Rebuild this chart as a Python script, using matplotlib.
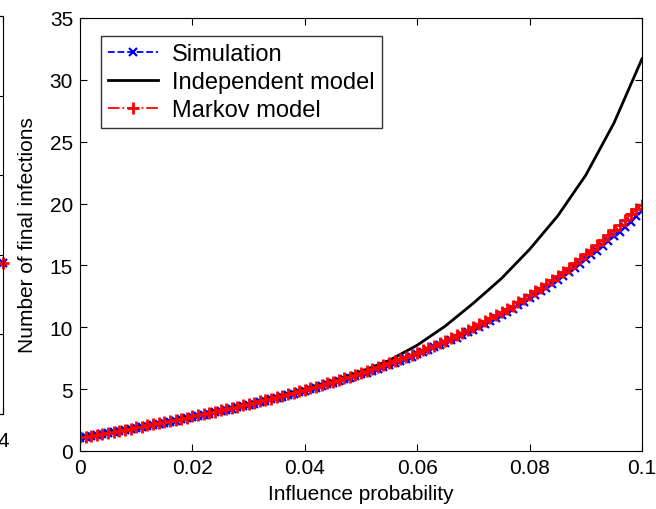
import matplotlib
matplotlib.use("Agg")
import matplotlib.pyplot as plt
import numpy as np

plt.rcParams['font.family'] = ['Liberation Sans', 'DejaVu Sans']

# ---- data ----
x_prob = [i / 1000 for i in range(101)]

markov = [1.10, 1.17, 1.25, 1.33, 1.41, 1.49, 1.57, 1.65, 1.73, 1.81,
          1.90, 1.98, 2.07, 2.15, 2.24, 2.33, 2.42, 2.51, 2.61, 2.70,
          2.80, 2.89, 2.99, 3.09, 3.19, 3.29, 3.39, 3.49, 3.59, 3.70,
          3.80, 3.91, 4.02, 4.13, 4.24, 4.35, 4.47, 4.59, 4.71, 4.83,
          4.95, 5.08, 5.21, 5.34, 5.47, 5.60, 5.74, 5.88, 6.01, 6.15,
          6.30, 6.45, 6.60, 6.76, 6.92, 7.08, 7.25, 7.42, 7.59, 7.77,
          7.95, 8.14, 8.33, 8.52, 8.72, 8.92, 9.13, 9.34, 9.56, 9.78,
          10.00, 10.24, 10.48, 10.72, 10.97, 11.23, 11.49, 11.76, 12.03, 12.31,
          12.60, 12.90, 13.20, 13.51, 13.83, 14.16, 14.49, 14.83, 15.18, 15.54,
          15.90, 16.27, 16.65, 17.04, 17.44, 17.85, 18.27, 18.69, 19.12, 19.55,
          19.90]

simulation = [1.05, 1.13, 1.20, 1.29, 1.36, 1.45, 1.52, 1.61, 1.68, 1.77,
              1.85, 1.93, 2.02, 2.10, 2.19, 2.27, 2.37, 2.45, 2.55, 2.64,
              2.74, 2.83, 2.93, 3.02, 3.13, 3.22, 3.33, 3.42, 3.53, 3.62,
              3.73, 3.83, 3.95, 4.05, 4.17, 4.27, 4.40, 4.51, 4.63, 4.75,
              4.87, 4.99, 5.12, 5.25, 5.38, 5.51, 5.64, 5.78, 5.91, 6.05,
              6.19, 6.34, 6.49, 6.64, 6.80, 6.96, 7.12, 7.29, 7.46, 7.63,
              7.81, 7.99, 8.18, 8.37, 8.56, 8.76, 8.96, 9.17, 9.38, 9.60,
              9.82, 10.04, 10.27, 10.51, 10.75, 11.00, 11.25, 11.51, 11.78, 12.05,
              12.33, 12.61, 12.90, 13.20, 13.50, 13.81, 14.13, 14.46, 14.79, 15.13,
              15.48, 15.84, 16.20, 16.57, 16.95, 17.34, 17.73, 18.13, 18.54, 18.96,
              19.40]

x_indep = [0.000, 0.005, 0.010, 0.015, 0.020, 0.025, 0.030, 0.035, 0.040, 0.045,
           0.050, 0.055, 0.060, 0.065, 0.070, 0.075, 0.080, 0.085, 0.090, 0.095, 0.100]
independent = [1.10, 1.50, 1.92, 2.35, 2.82, 3.32, 3.85, 4.42, 5.02, 5.68,
               6.42, 7.32, 8.55, 10.10, 11.95, 13.95, 16.30, 19.00, 22.30, 26.50, 31.70]

xtick_vals = [0, 0.02, 0.04, 0.06, 0.08, 0.1]
xtick_labels = ['0', '0.02', '0.04', '0.06', '0.08', '0.1']
ytick_vals = [0, 5, 10, 15, 20, 25, 30, 35]

# neighbouring (cut-off) panel data
left_x = [4]
left_y = [1.9]

W, H = 656, 510
fig = plt.figure(figsize=(W / 100, H / 100), dpi=100)

# ---- cut-off panel on the left ----
axl = fig.add_axes([3 / W - 0.5, (H - 415) / H, 0.5, 398 / H])
axl.set_xlim(0, 4)
axl.set_ylim(0, 5)
axl.plot(left_x, left_y, color='blue', marker='x', ms=6, mew=1.6, ls='none', clip_on=False)
axl.plot(left_x, left_y, color='red', marker='+', ms=8, mew=2.0, ls='none', clip_on=False)
axl.set_xticks([4])
axl.set_xticklabels(['4'])
axl.set_yticks([0, 1, 2, 3, 4, 5])
axl.set_yticklabels([])
axl.tick_params(direction='in', length=5, width=0.8, top=True, right=True,
                labelsize=15, pad=12)
for s in axl.spines.values():
    s.set_linewidth(0.8)

# ---- main panel ----
ax = fig.add_axes([80 / W, (H - 452) / H, 562 / W, 433 / H])
ax.plot(x_prob, simulation, color='blue', ls='--', lw=1.3, marker='x', ms=6, mew=1.6,
        label='Simulation')
ax.plot(x_indep, independent, color='black', ls='-', lw=2.0, label='Independent model')
ax.plot(x_prob, markov, color='red', ls='-.', lw=1.3, marker='+', ms=8, mew=2.0,
        label='Markov model')

ax.set_xlim(0, 0.1)
ax.set_ylim(0, 35)
ax.set_xticks(xtick_vals)
ax.set_xticklabels(xtick_labels)
ax.set_yticks(ytick_vals)
ax.tick_params(direction='in', length=5, width=0.8, top=True, right=True,
               labelsize=15, pad=5)
for s in ax.spines.values():
    s.set_linewidth(0.8)

ax.set_xlabel('Influence probability', fontsize=15, labelpad=5)
ax.set_ylabel('Number of final infections', fontsize=15, labelpad=9)

leg = ax.legend(loc='upper left', bbox_to_anchor=(101 / W, 1 - 37 / H),
                bbox_transform=fig.transFigure, borderaxespad=0,
                fancybox=False, frameon=True, edgecolor='black', fontsize=17,
                handlelength=2.1, labelspacing=0.25, borderpad=0.3,
                handletextpad=0.6)
leg.get_frame().set_linewidth(1.0)

fig.savefig('out.png', dpi=100)
